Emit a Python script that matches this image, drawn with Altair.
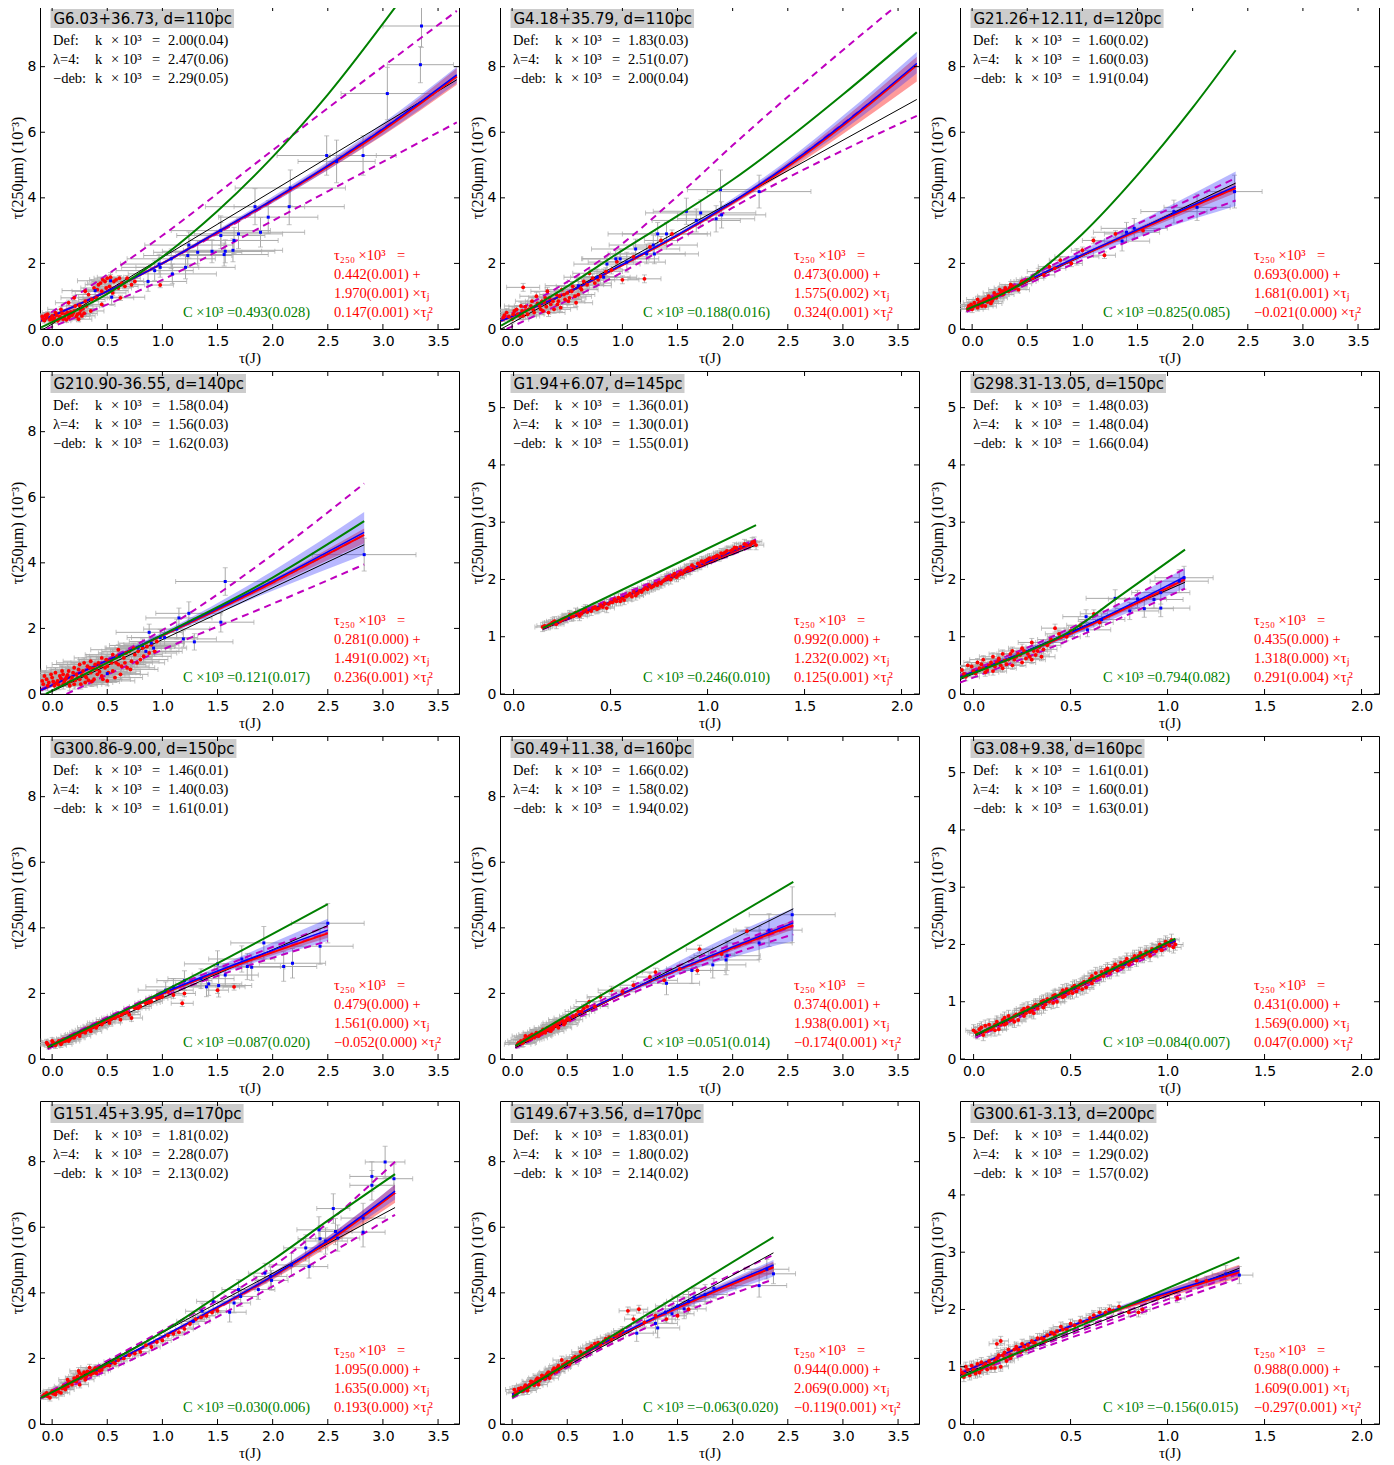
import altair as alt
import pandas as pd

W, H = 419, 323

TITLES = ["G6.03+36.73, d=110pc", "G4.18+35.79, d=110pc", "G21.26+12.11, d=120pc",
          "G210.90-36.55, d=140pc", "G1.94+6.07, d=145pc", "G298.31-13.05, d=150pc",
          "G300.86-9.00, d=150pc", "G0.49+11.38, d=160pc", "G3.08+9.38, d=160pc",
          "G151.45+3.95, d=170pc", "G149.67+3.56, d=170pc", "G300.61-3.13, d=200pc"]
K_DEF = ["2.00(0.04)", "1.83(0.03)", "1.60(0.02)", "1.58(0.04)", "1.36(0.01)", "1.48(0.03)",
         "1.46(0.01)", "1.66(0.02)", "1.61(0.01)", "1.81(0.02)", "1.83(0.01)", "1.44(0.02)"]
K_LAM = ["2.47(0.06)", "2.51(0.07)", "1.60(0.03)", "1.56(0.03)", "1.30(0.01)", "1.48(0.04)",
         "1.40(0.03)", "1.58(0.02)", "1.60(0.01)", "2.28(0.07)", "1.80(0.02)", "1.29(0.02)"]
K_DEB = ["2.29(0.05)", "2.00(0.04)", "1.91(0.04)", "1.62(0.03)", "1.55(0.01)", "1.66(0.04)",
         "1.61(0.01)", "1.94(0.02)", "1.63(0.01)", "2.13(0.02)", "2.14(0.02)", "1.57(0.02)"]
FIT_A = ["0.442(0.001)", "0.473(0.000)", "0.693(0.000)", "0.281(0.000)", "0.992(0.000)", "0.435(0.000)",
         "0.479(0.000)", "0.374(0.001)", "0.431(0.000)", "1.095(0.000)", "0.944(0.000)", "0.988(0.000)"]
FIT_B = ["1.970(0.001)", "1.575(0.002)", "1.681(0.001)", "1.491(0.002)", "1.232(0.002)", "1.318(0.000)",
         "1.561(0.000)", "1.938(0.001)", "1.569(0.000)", "1.635(0.000)", "2.069(0.000)", "1.609(0.001)"]
FIT_C = ["0.147(0.001)", "0.324(0.001)", "\u22120.021(0.000)", "0.236(0.001)", "0.125(0.001)", "0.291(0.004)",
         "\u22120.052(0.000)", "\u22120.174(0.001)", "0.047(0.000)", "0.193(0.000)", "\u22120.119(0.001)",
         "\u22120.297(0.001)"]
C_VAL = ["0.493(0.028)", "0.188(0.016)", "0.825(0.085)", "0.121(0.017)", "0.246(0.010)", "0.794(0.082)",
         "0.087(0.020)", "0.051(0.014)", "0.084(0.007)", "0.030(0.006)", "\u22120.063(0.020)",
         "\u22120.156(0.015)"]
WIDE = [True, True, True, True, False, False, True, True, False, True, True, False]

X_WIDE = (-0.11, 3.69)
Y_WIDE = (0, 9.85)
X_NARROW = (-0.07, 2.09)
Y_NARROW = (0, 5.64)
XT_WIDE = [0.0, 0.5, 1.0, 1.5, 2.0, 2.5, 3.0, 3.5]
YT_WIDE = [0, 2, 4, 6, 8]
XT_NARROW = [0.0, 0.5, 1.0, 1.5, 2.0]
YT_NARROW = [0, 1, 2, 3, 4, 5]

# red dots (x, y) per panel
RED_PTS = [
    [(-0.08, 0.30), (-0.05, 0.35), (-0.02, 0.28), (0.0, 0.40), (0.02, 0.33), (0.05, 0.25), (0.07, 0.38),
     (0.1, 0.30), (0.12, 0.45), (0.15, 0.35), (0.18, 0.42), (0.2, 0.55), (0.22, 0.38), (0.25, 0.48),
     (0.28, 0.62), (0.15, 0.80), (0.2, 0.95), (0.25, 0.72), (0.3, 0.85), (0.33, 1.05), (0.38, 1.25),
     (0.4, 0.95), (0.42, 1.35), (0.45, 1.15), (0.48, 1.45), (0.5, 1.55), (0.52, 1.30), (0.55, 1.10),
     (0.58, 1.50), (0.6, 1.25), (0.63, 1.40), (0.68, 1.55), (0.72, 1.35), (0.75, 1.45), (0.3, 1.15),
     (0.62, 0.95), (0.98, 1.34), (0.08, 0.6), (0.35, 0.55), (0.45, 0.75), (-0.06, 0.42), (0.03, 0.5),
     (0.13, 0.28), (0.17, 0.52), (0.24, 0.3), (0.27, 0.4), (0.46, 1.5), (0.53, 1.58)],
    [(-0.08, 0.35), (-0.05, 0.5), (0.0, 0.3), (0.02, 0.55), (0.05, 0.45), (0.08, 0.7), (0.1, 1.27),
     (0.1, 0.4), (0.15, 0.6), (0.18, 0.85), (0.2, 0.5), (0.22, 1.0), (0.25, 0.7), (0.28, 0.55), (0.3, 0.95),
     (0.32, 1.15), (0.35, 0.75), (0.38, 0.6), (0.4, 1.05), (0.42, 0.85), (0.45, 1.2), (0.48, 0.9), (0.5, 1.1),
     (0.55, 1.3), (0.58, 0.8), (0.6, 1.05), (0.65, 1.45), (0.7, 1.7), (0.75, 1.4), (0.8, 1.6), (0.85, 1.75),
     (0.9, 1.8), (1.0, 1.5), (1.1, 2.2), (1.2, 1.53), (1.25, 2.5), (1.35, 2.7), (1.45, 2.9), (0.95, 2.05),
     (0.12, 0.55), (0.27, 0.85), (0.33, 0.5), (0.44, 0.65), (0.52, 0.95), (0.62, 1.25)],
    [(-0.03, 0.7), (0.0, 0.6), (0.02, 0.8), (0.05, 0.65), (0.05, 0.9), (0.08, 0.75), (0.1, 0.85),
     (0.12, 0.7), (0.15, 1.0), (0.18, 0.85), (0.2, 1.1), (0.22, 0.95), (0.25, 1.2), (0.28, 1.05), (0.3, 1.25),
     (0.33, 1.15), (0.35, 1.35), (0.4, 1.3), (0.42, 1.2), (0.45, 1.45), (0.5, 1.5), (0.55, 1.55), (0.6, 1.75),
     (0.7, 1.9), (0.8, 2.1), (0.9, 2.0), (1.0, 2.4), (1.1, 2.7), (1.2, 2.25), (1.3, 2.9), (1.55, 3.0),
     (0.65, 1.65), (0.75, 1.85), (0.07, 0.82), (0.13, 0.92), (0.17, 0.78), (0.23, 1.05), (0.27, 1.15)],
    [(-0.08, 0.3), (-0.05, 0.45), (-0.03, 0.35), (0.0, 0.5), (0.02, 0.25), (0.05, 0.4), (0.07, 0.55),
     (0.1, 0.3), (0.1, 0.6), (0.12, 0.45), (0.15, 0.35), (0.15, 0.7), (0.18, 0.5), (0.2, 0.3), (0.2, 0.8),
     (0.22, 0.6), (0.25, 0.45), (0.25, 0.9), (0.28, 0.7), (0.3, 0.35), (0.3, 0.55), (0.32, 0.85), (0.35, 0.65),
     (0.35, 1.0), (0.38, 0.45), (0.4, 0.75), (0.42, 0.95), (0.45, 0.55), (0.45, 1.1), (0.48, 0.8), (0.5, 0.4),
     (0.52, 1.0), (0.55, 0.7), (0.55, 1.2), (0.6, 0.9), (0.62, 0.6), (0.65, 1.1), (0.68, 0.8), (0.7, 1.3),
     (0.72, 1.0), (0.75, 1.2), (0.8, 1.05), (0.82, 1.4), (0.88, 1.25), (0.9, 1.5), (0.95, 1.6), (0.6, 1.35),
     (0.04, 0.32), (0.08, 0.48), (0.13, 0.52), (0.17, 0.4), (0.23, 0.5), (0.27, 0.58), (0.33, 0.42),
     (0.37, 0.78), (0.43, 0.68), (0.5, 0.85), (0.58, 0.95), (0.66, 0.95), (0.78, 1.3)],
    [(0.15, 1.17), (0.18, 1.2), (0.2, 1.25), (0.22, 1.22), (0.25, 1.3), (0.27, 1.33), (0.3, 1.35),
     (0.32, 1.42), (0.35, 1.4), (0.37, 1.48), (0.4, 1.45), (0.42, 1.52), (0.45, 1.55), (0.48, 1.5), (0.5, 1.6),
     (0.52, 1.65), (0.55, 1.62), (0.58, 1.7), (0.6, 1.75), (0.63, 1.72), (0.65, 1.8), (0.68, 1.85), (0.7, 1.9),
     (0.72, 1.88), (0.75, 1.95), (0.78, 2.0), (0.8, 2.05), (0.83, 2.1), (0.85, 2.08), (0.88, 2.15), (0.9, 2.2),
     (0.93, 2.22), (0.95, 2.28), (0.98, 2.3), (1.0, 2.35), (1.03, 2.38), (1.05, 2.42), (1.08, 2.45),
     (1.1, 2.5), (1.13, 2.52), (1.15, 2.55), (1.2, 2.6), (1.23, 2.65), (1.25, 2.6), (0.24, 1.27),
     (0.34, 1.36), (0.44, 1.5), (0.54, 1.68), (0.64, 1.76), (0.74, 1.9), (0.84, 2.04)],
    [(-0.05, 0.35), (-0.03, 0.5), (0.0, 0.4), (0.02, 0.55), (0.05, 0.45), (0.05, 0.6), (0.08, 0.5),
     (0.1, 0.4), (0.1, 0.65), (0.12, 0.55), (0.15, 0.45), (0.15, 0.7), (0.18, 0.6), (0.2, 0.5), (0.2, 0.75),
     (0.22, 0.65), (0.25, 0.55), (0.25, 0.8), (0.28, 0.7), (0.3, 0.6), (0.3, 0.9), (0.33, 0.75), (0.35, 0.65),
     (0.38, 0.85), (0.4, 0.95), (0.42, 1.15), (0.45, 1.0), (0.5, 1.1), (0.55, 1.2), (0.62, 1.4), (0.65, 1.25),
     (0.07, 0.42), (0.13, 0.6), (0.17, 0.52), (0.23, 0.7), (0.27, 0.62), (0.32, 0.68)],
    [(-0.05, 0.5), (-0.03, 0.4), (0.0, 0.55), (0.02, 0.45), (0.05, 0.5), (0.08, 0.45), (0.1, 0.6),
     (0.12, 0.55), (0.15, 0.55), (0.18, 0.7), (0.2, 0.65), (0.22, 0.75), (0.25, 0.7), (0.28, 0.85), (0.3, 0.8),
     (0.33, 0.95), (0.35, 0.85), (0.38, 1.0), (0.4, 0.95), (0.42, 1.1), (0.45, 1.05), (0.5, 1.2), (0.52, 1.1),
     (0.55, 1.25), (0.6, 1.3), (0.62, 1.2), (0.65, 1.4), (0.7, 1.35), (0.72, 1.25), (0.75, 1.55), (0.8, 1.6),
     (0.85, 1.7), (0.9, 1.75), (0.95, 1.85), (1.0, 1.9), (1.05, 2.05), (1.1, 1.95), (1.18, 1.7), (1.2, 2.0),
     (1.5, 2.1), (1.65, 2.2)],
    [(0.05, 0.45), (0.08, 0.55), (0.1, 0.5), (0.12, 0.7), (0.15, 0.6), (0.18, 0.75), (0.2, 0.65),
     (0.22, 0.8), (0.25, 0.75), (0.28, 0.9), (0.3, 0.8), (0.32, 0.95), (0.35, 0.85), (0.38, 1.0), (0.4, 1.1),
     (0.42, 0.95), (0.45, 1.2), (0.48, 1.1), (0.5, 1.25), (0.55, 1.3), (0.6, 1.45), (0.65, 1.55), (0.7, 1.75),
     (0.75, 1.6), (0.8, 1.9), (0.9, 2.1), (1.0, 2.05), (1.1, 2.25), (1.25, 2.5), (1.38, 2.4), (1.52, 2.75),
     (1.68, 2.7), (1.7, 3.35), (1.9, 3.2), (2.13, 3.9), (1.3, 2.65), (0.14, 0.66), (0.24, 0.7), (0.34, 0.9)],
    [(0.0, 0.5), (0.02, 0.45), (0.04, 0.55), (0.05, 0.42), (0.07, 0.5), (0.08, 0.6), (0.1, 0.55),
     (0.12, 0.65), (0.13, 0.52), (0.15, 0.68), (0.17, 0.62), (0.18, 0.75), (0.2, 0.7), (0.22, 0.78),
     (0.23, 0.68), (0.25, 0.85), (0.27, 0.8), (0.28, 0.9), (0.3, 0.85), (0.32, 0.95), (0.33, 0.88), (0.35, 1.0),
     (0.37, 0.95), (0.38, 1.05), (0.4, 1.05), (0.42, 1.12), (0.43, 1.0), (0.45, 1.15), (0.47, 1.1),
     (0.48, 1.22), (0.5, 1.2), (0.52, 1.28), (0.53, 1.18), (0.55, 1.3), (0.57, 1.35), (0.58, 1.25), (0.6, 1.4),
     (0.62, 1.38), (0.63, 1.5), (0.65, 1.45), (0.68, 1.55), (0.7, 1.5), (0.72, 1.6), (0.75, 1.62), (0.78, 1.7),
     (0.8, 1.65), (0.82, 1.75), (0.85, 1.8), (0.88, 1.82), (0.9, 1.85), (0.93, 1.9), (0.95, 1.95),
     (0.98, 1.98), (1.0, 2.02), (1.03, 1.95)],
    [(-0.08, 0.85), (-0.05, 0.95), (-0.02, 0.8), (0.0, 1.0), (0.03, 0.9), (0.05, 1.05), (0.08, 0.95),
     (0.1, 1.15), (0.12, 1.05), (0.15, 1.25), (0.18, 1.2), (0.2, 1.4), (0.22, 1.3), (0.25, 1.55), (0.25, 1.2),
     (0.28, 1.45), (0.3, 1.35), (0.32, 1.6), (0.35, 1.5), (0.38, 1.65), (0.4, 1.55), (0.42, 1.7), (0.45, 1.65),
     (0.5, 1.8), (0.55, 1.9), (0.6, 1.95), (0.7, 2.1), (0.8, 2.2), (0.85, 2.4), (0.9, 2.35), (1.0, 2.55),
     (1.1, 2.75), (1.2, 2.9), (1.3, 3.2), (1.4, 3.3), (1.5, 3.45), (0.14, 1.35), (0.24, 1.62), (0.34, 1.72)],
    [(0.02, 1.05), (0.05, 0.98), (0.08, 1.1), (0.1, 1.02), (0.12, 1.18), (0.15, 1.12), (0.18, 1.28),
     (0.2, 1.18), (0.22, 1.36), (0.25, 1.32), (0.28, 1.46), (0.3, 1.38), (0.32, 1.55), (0.35, 1.5), (0.38, 1.7),
     (0.4, 1.6), (0.42, 1.78), (0.45, 1.72), (0.5, 1.9), (0.52, 1.82), (0.55, 2.0), (0.6, 2.05), (0.62, 2.2),
     (0.65, 2.15), (0.7, 2.32), (0.75, 2.45), (0.8, 2.42), (0.85, 2.6), (0.9, 2.58), (0.95, 2.72), (1.0, 2.85),
     (1.05, 3.45), (1.1, 3.2), (1.15, 3.5), (1.2, 3.1), (1.3, 3.3), (1.4, 3.2), (1.5, 3.3), (1.6, 3.5),
     (0.45, 1.95), (0.14, 1.02), (0.24, 1.2), (0.34, 1.4)],
    [(-0.06, 0.9), (-0.04, 1.0), (-0.02, 0.85), (0.0, 0.95), (0.02, 1.05), (0.03, 0.9), (0.05, 1.0),
     (0.07, 0.95), (0.08, 1.1), (0.1, 1.05), (0.12, 1.15), (0.14, 1.0), (0.15, 1.2), (0.17, 1.1), (0.18, 1.3),
     (0.2, 1.2), (0.22, 1.35), (0.24, 1.25), (0.25, 1.4), (0.27, 1.3), (0.3, 1.45), (0.32, 1.4), (0.35, 1.5),
     (0.37, 1.45), (0.4, 1.6), (0.42, 1.55), (0.45, 1.7), (0.48, 1.65), (0.5, 1.75), (0.55, 1.8), (0.6, 1.85),
     (0.65, 1.95), (0.7, 2.0), (0.75, 2.05), (0.8, 1.95), (0.87, 2.0), (0.95, 2.2), (1.05, 2.2), (1.15, 2.5),
     (1.3, 2.6), (0.12, 1.4), (0.14, 1.45), (-0.05, 0.82), (0.01, 0.88), (0.09, 0.98), (0.19, 1.15)],
]
# more red dots where the clouds are densest
RED_MORE = [
    [(-0.09, 0.38), (-0.07, 0.26), (-0.04, 0.45), (-0.01, 0.32), (0.01, 0.25), (0.04, 0.42), (0.06, 0.3),
     (0.09, 0.48), (0.11, 0.35), (0.14, 0.5), (0.16, 0.4), (0.19, 0.48), (0.21, 0.7), (0.23, 0.45),
     (0.26, 0.58), (0.29, 0.48), (0.31, 0.7), (0.36, 0.9), (0.41, 1.2), (0.44, 1.4), (0.49, 1.25),
     (0.56, 1.45), (0.61, 1.55), (0.66, 1.3)],
    [(-0.07, 0.42), (-0.03, 0.38), (0.01, 0.45), (0.04, 0.6), (0.07, 0.4), (0.09, 0.55), (0.12, 0.68),
     (0.14, 0.45), (0.17, 0.7), (0.19, 0.6), (0.23, 0.78), (0.26, 0.6), (0.29, 0.82), (0.31, 0.68),
     (0.34, 0.95), (0.37, 0.85), (0.41, 0.75), (0.43, 1.0), (0.47, 1.05), (0.51, 0.85), (0.54, 1.15),
     (0.57, 1.0), (0.63, 1.2), (0.68, 1.35), (0.73, 1.55), (0.78, 1.5)],
    [(-0.04, 0.62), (-0.01, 0.75), (0.01, 0.68), (0.03, 0.72), (0.06, 0.78), (0.09, 0.7), (0.11, 0.9),
     (0.14, 0.82), (0.16, 0.95), (0.19, 0.92), (0.21, 1.0), (0.24, 1.05), (0.26, 1.1), (0.29, 1.15),
     (0.31, 1.2), (0.34, 1.25), (0.37, 1.3), (0.39, 1.25), (0.44, 1.38), (0.48, 1.45)],
    [(-0.09, 0.4), (-0.07, 0.55), (-0.04, 0.25), (-0.01, 0.6), (0.01, 0.38), (0.03, 0.65), (0.06, 0.28),
     (0.09, 0.7), (0.11, 0.38), (0.14, 0.58), (0.16, 0.25), (0.19, 0.65), (0.21, 0.42), (0.24, 0.75),
     (0.26, 0.3), (0.29, 0.95), (0.31, 0.5), (0.34, 0.8), (0.36, 0.38), (0.39, 0.9), (0.41, 0.6), (0.44, 0.85),
     (0.46, 0.45), (0.49, 1.05), (0.51, 0.65), (0.54, 0.95), (0.57, 0.5), (0.59, 1.15), (0.63, 0.85),
     (0.67, 1.25), (0.71, 0.75), (0.74, 1.4), (0.77, 0.95), (0.83, 1.15), (0.86, 1.45), (0.93, 1.3)],
    [(0.16, 1.19), (0.19, 1.22), (0.21, 1.27), (0.26, 1.32), (0.29, 1.38), (0.31, 1.36), (0.33, 1.4),
     (0.36, 1.45), (0.38, 1.43), (0.41, 1.5), (0.43, 1.48), (0.46, 1.52), (0.47, 1.58), (0.49, 1.57),
     (0.51, 1.6), (0.53, 1.62), (0.56, 1.67), (0.57, 1.64), (0.59, 1.72), (0.61, 1.7), (0.62, 1.78),
     (0.66, 1.78), (0.67, 1.82), (0.69, 1.83), (0.71, 1.86), (0.73, 1.92), (0.76, 1.93), (0.77, 1.97),
     (0.79, 2.02), (0.81, 2.0), (0.82, 2.07), (0.86, 2.12), (0.87, 2.1), (0.89, 2.18), (0.91, 2.17),
     (0.92, 2.25), (0.96, 2.25), (0.97, 2.32), (0.99, 2.33), (1.01, 2.37), (1.04, 2.4), (1.06, 2.4),
     (1.07, 2.46), (1.09, 2.47), (1.12, 2.5), (1.14, 2.56), (1.17, 2.57), (1.19, 2.62), (1.22, 2.6),
     (1.24, 2.66)],
    [(-0.06, 0.42), (-0.04, 0.3), (-0.01, 0.48), (0.01, 0.36), (0.03, 0.45), (0.04, 0.52), (0.06, 0.38),
     (0.09, 0.55), (0.11, 0.48), (0.13, 0.62), (0.14, 0.5), (0.16, 0.58), (0.19, 0.7), (0.21, 0.6),
     (0.24, 0.68), (0.26, 0.75), (0.29, 0.65), (0.31, 0.75), (0.34, 0.82), (0.36, 0.78), (0.39, 0.9),
     (0.44, 1.05), (0.48, 1.0)],
    [(-0.04, 0.45), (0.01, 0.5), (0.03, 0.42), (0.06, 0.55), (0.09, 0.5), (0.11, 0.55), (0.14, 0.62),
     (0.16, 0.6), (0.19, 0.65), (0.21, 0.72), (0.24, 0.75), (0.26, 0.8), (0.29, 0.82), (0.31, 0.88),
     (0.34, 0.9), (0.36, 0.95), (0.39, 0.98), (0.41, 1.02), (0.44, 1.1), (0.47, 1.12), (0.53, 1.2),
     (0.57, 1.25), (0.63, 1.35), (0.68, 1.42), (0.78, 1.55), (0.88, 1.72), (0.98, 1.88)],
    [(0.06, 0.5), (0.09, 0.48), (0.11, 0.6), (0.13, 0.58), (0.16, 0.7), (0.17, 0.62), (0.19, 0.7),
     (0.21, 0.75), (0.23, 0.72), (0.26, 0.82), (0.27, 0.78), (0.29, 0.85), (0.31, 0.88), (0.33, 0.9),
     (0.36, 0.95), (0.37, 0.92), (0.39, 1.05), (0.41, 1.0), (0.43, 1.1), (0.46, 1.15), (0.47, 1.05),
     (0.49, 1.18), (0.52, 1.2), (0.58, 1.35), (0.63, 1.45), (0.68, 1.6)],
    [(0.01, 0.47), (0.03, 0.52), (0.06, 0.48), (0.06, 0.58), (0.09, 0.52), (0.11, 0.6), (0.11, 0.5),
     (0.14, 0.6), (0.16, 0.72), (0.16, 0.6), (0.19, 0.68), (0.21, 0.75), (0.21, 0.65), (0.24, 0.8),
     (0.26, 0.75), (0.26, 0.88), (0.29, 0.82), (0.31, 0.92), (0.31, 0.8), (0.34, 0.95), (0.36, 1.02),
     (0.36, 0.9), (0.39, 1.0), (0.41, 1.1), (0.41, 0.98), (0.44, 1.1), (0.46, 1.2), (0.46, 1.08),
     (0.49, 1.15), (0.51, 1.25), (0.51, 1.15), (0.54, 1.25), (0.56, 1.32), (0.56, 1.22), (0.59, 1.35),
     (0.61, 1.45), (0.61, 1.32), (0.64, 1.42), (0.66, 1.52), (0.67, 1.45), (0.69, 1.58), (0.71, 1.55),
     (0.73, 1.65), (0.74, 1.55), (0.76, 1.68), (0.77, 1.6), (0.79, 1.75), (0.81, 1.7), (0.83, 1.8),
     (0.84, 1.72), (0.86, 1.85), (0.87, 1.78), (0.89, 1.88), (0.91, 1.8), (0.92, 1.92), (0.94, 1.88),
     (0.96, 2.0), (0.97, 1.9), (0.99, 2.05), (1.01, 1.98), (1.02, 2.08), (1.04, 2.0)],
    [(-0.07, 0.9), (-0.04, 0.85), (-0.01, 0.95), (0.01, 0.92), (0.04, 1.0), (0.06, 0.98), (0.09, 1.08),
     (0.11, 1.1), (0.14, 1.15), (0.16, 1.28), (0.19, 1.3), (0.21, 1.35), (0.23, 1.45), (0.26, 1.4),
     (0.27, 1.5), (0.29, 1.58), (0.31, 1.45), (0.33, 1.55), (0.36, 1.62), (0.37, 1.55), (0.39, 1.7),
     (0.43, 1.62), (0.47, 1.75), (0.52, 1.78), (0.57, 1.85), (0.65, 2.0), (0.75, 2.15), (0.95, 2.5),
     (1.05, 2.7), (1.15, 2.8), (1.25, 3.05), (1.35, 3.25), (1.45, 3.4)],
    [(0.03, 0.95), (0.06, 1.08), (0.09, 1.0), (0.11, 1.12), (0.13, 1.08), (0.16, 1.2), (0.17, 1.3),
     (0.19, 1.22), (0.21, 1.3), (0.23, 1.4), (0.26, 1.38), (0.27, 1.48), (0.29, 1.42), (0.31, 1.5),
     (0.33, 1.58), (0.36, 1.55), (0.37, 1.65), (0.39, 1.62), (0.41, 1.72), (0.43, 1.68), (0.46, 1.8),
     (0.48, 1.85), (0.53, 1.9), (0.57, 2.05), (0.63, 2.12), (0.68, 2.3), (0.72, 2.38), (0.78, 2.48),
     (0.83, 2.52), (0.88, 2.65), (0.93, 2.7), (0.98, 2.78)],
    [(-0.07, 0.95), (-0.05, 0.88), (-0.03, 0.95), (-0.01, 1.02), (0.01, 0.92), (0.04, 1.08), (0.04, 0.95),
     (0.06, 1.05), (0.09, 1.05), (0.11, 1.1), (0.11, 0.98), (0.13, 1.2), (0.16, 1.15), (0.16, 1.25),
     (0.19, 1.2), (0.21, 1.3), (0.23, 1.3), (0.26, 1.35), (0.28, 1.38), (0.31, 1.42), (0.33, 1.5),
     (0.36, 1.48), (0.38, 1.55), (0.41, 1.58), (0.43, 1.62), (0.46, 1.65), (0.52, 1.72), (0.58, 1.78),
     (0.62, 1.9), (0.68, 1.95), (0.72, 1.98), (0.85, 1.95), (1.2, 2.5)],
]
# typical error of the red dots (x, y)
RED_ERR = [(0.12, 0.08), (0.15, 0.12), (0.1, 0.1), (0.25, 0.15), (0.04, 0.08), (0.07, 0.07),
           (0.1, 0.1), (0.12, 0.12), (0.04, 0.1), (0.08, 0.1), (0.08, 0.12), (0.04, 0.08)]

# blue dots (x, y, xerr, yerr)
BLUE_PTS = [
    [(3.35, 9.24, 0.35, 0.65), (3.34, 8.06, 0.3, 0.55), (3.04, 7.18, 0.42, 0.8), (2.49, 5.29, 0.45, 0.6),
     (2.58, 5.11, 0.35, 0.65), (2.82, 5.29, 0.3, 0.6), (2.16, 4.30, 0.5, 0.55), (2.15, 3.73, 0.5, 0.55),
     (1.84, 3.73, 0.45, 0.55), (1.96, 3.41, 0.45, 0.5), (1.89, 2.95, 0.4, 0.45), (1.69, 2.90, 0.4, 0.45),
     (1.53, 3.00, 0.45, 0.45), (1.53, 2.85, 0.4, 0.4), (1.65, 2.70, 0.4, 0.4), (1.24, 2.56, 0.4, 0.4),
     (1.23, 2.24, 0.4, 0.35), (1.32, 2.34, 0.4, 0.35), (1.45, 2.37, 0.45, 0.35), (1.57, 2.37, 0.45, 0.35),
     (1.56, 2.27, 0.4, 0.35), (1.64, 2.40, 0.45, 0.35), (1.21, 1.88, 0.45, 0.35), (1.09, 1.68, 0.4, 0.3),
     (1.08, 2.14, 0.4, 0.3), (0.98, 1.88, 0.35, 0.3), (0.93, 1.78, 0.35, 0.3), (0.87, 1.45, 0.35, 0.3),
     (0.97, 1.98, 0.35, 0.3), (0.54, 0.97, 0.3, 0.25), (0.53, 1.47, 0.3, 0.25), (0.39, 1.17, 0.3, 0.25)],
    [(2.24, 4.19, 0.47, 0.5), (1.89, 4.25, 0.3, 0.6), (1.90, 3.48, 0.4, 0.4), (1.85, 3.36, 0.35, 0.4),
     (1.71, 3.54, 0.5, 0.4), (1.58, 3.59, 0.3, 0.4), (1.67, 3.31, 0.4, 0.35), (1.32, 2.90, 0.45, 0.35),
     (1.40, 2.90, 0.4, 0.35), (1.28, 2.56, 0.4, 0.3), (1.29, 2.29, 0.4, 0.3), (1.22, 2.29, 0.35, 0.3),
     (1.12, 2.44, 0.4, 0.3), (1.04, 2.04, 0.35, 0.3), (0.98, 2.14, 0.35, 0.3), (0.94, 2.14, 0.3, 0.25),
     (0.86, 1.98, 0.3, 0.25), (0.83, 1.58, 0.3, 0.25), (0.77, 1.58, 0.3, 0.25), (0.60, 1.32, 0.3, 0.2)],
    [(2.38, 4.19, 0.25, 0.5), (2.04, 3.71, 0.3, 0.4), (1.83, 3.58, 0.3, 0.35), (1.40, 2.95, 0.3, 0.3),
     (1.36, 2.68, 0.25, 0.3), (1.47, 3.07, 0.3, 0.3), (0.95, 2.2, 0.2, 0.25)],
    [(2.83, 4.25, 0.47, 0.5), (1.57, 3.43, 0.45, 0.42), (1.24, 2.46, 0.3, 0.35), (1.15, 2.32, 0.3, 0.3),
     (1.13, 1.98, 0.3, 0.3), (1.53, 2.19, 0.3, 0.3), (1.29, 1.59, 0.35, 0.25), (1.19, 1.68, 0.3, 0.25),
     (0.98, 1.72, 0.3, 0.25), (1.02, 1.72, 0.3, 0.25), (0.88, 1.88, 0.3, 0.25), (0.82, 1.48, 0.3, 0.2),
     (0.78, 1.40, 0.3, 0.2), (0.85, 1.30, 0.3, 0.2), (0.90, 1.55, 0.3, 0.2), (0.92, 1.40, 0.3, 0.2),
     (0.61, 1.15, 0.3, 0.2), (0.50, 0.62, 0.3, 0.2)],
    [],
    [(1.085, 2.03, 0.15, 0.2), (1.06, 1.97, 0.15, 0.2), (0.965, 1.77, 0.15, 0.2), (0.965, 1.50, 0.15, 0.15),
     (0.93, 1.65, 0.15, 0.15), (0.845, 1.66, 0.15, 0.15), (0.805, 1.45, 0.15, 0.15), (0.88, 1.49, 0.15, 0.15),
     (0.73, 1.67, 0.15, 0.15), (0.58, 1.35, 0.12, 0.12), (0.587, 1.12, 0.12, 0.12), (0.66, 1.30, 0.12, 0.12)],
    [(2.5, 4.14, 0.33, 0.6), (2.43, 3.44, 0.3, 0.55), (2.18, 2.92, 0.3, 0.45), (2.10, 2.82, 0.3, 0.45),
     (1.92, 3.54, 0.3, 0.5), (1.81, 2.80, 0.3, 0.4), (1.77, 2.82, 0.3, 0.4), (1.72, 3.05, 0.3, 0.4),
     (1.57, 2.56, 0.3, 0.35), (1.50, 2.90, 0.3, 0.4), (1.42, 2.29, 0.3, 0.35), (1.51, 2.24, 0.3, 0.35),
     (1.40, 2.20, 0.3, 0.3), (1.20, 2.39, 0.25, 0.3), (1.03, 2.10, 0.25, 0.25), (1.10, 2.20, 0.25, 0.25),
     (1.35, 2.45, 0.3, 0.3)],
    [(2.54, 4.40, 0.39, 0.85), (2.33, 3.93, 0.3, 0.5), (2.24, 3.54, 0.3, 0.5), (1.94, 3.02, 0.3, 0.45),
     (1.95, 3.15, 0.3, 0.45), (1.82, 2.87, 0.3, 0.4), (1.63, 2.70, 0.3, 0.4), (1.40, 2.31, 0.3, 0.35)],
    [],
    [(3.02, 7.99, 0.18, 0.48), (2.90, 7.55, 0.2, 0.45), (2.90, 7.28, 0.2, 0.45), (3.10, 7.48, 0.17, 0.45),
     (2.82, 6.28, 0.2, 0.45), (2.82, 5.85, 0.2, 0.45), (2.55, 6.57, 0.15, 0.45), (2.57, 5.87, 0.15, 0.4),
     (2.59, 5.67, 0.2, 0.4), (2.48, 5.58, 0.2, 0.4), (2.42, 5.92, 0.2, 0.4), (2.43, 5.65, 0.2, 0.4),
     (2.30, 5.37, 0.2, 0.4), (2.33, 4.80, 0.17, 0.35), (2.17, 4.85, 0.2, 0.35), (1.99, 4.38, 0.15, 0.3),
     (1.93, 4.60, 0.15, 0.3), (1.87, 4.10, 0.15, 0.3), (1.98, 4.50, 0.15, 0.3), (1.69, 4.10, 0.15, 0.3),
     (1.71, 3.89, 0.15, 0.3), (1.65, 3.69, 0.15, 0.3), (1.61, 3.41, 0.15, 0.3), (1.46, 3.74, 0.15, 0.3),
     (1.36, 3.44, 0.15, 0.25), (1.28, 3.13, 0.15, 0.25)],
    [(2.37, 4.58, 0.2, 0.3), (2.24, 4.22, 0.25, 0.35), (2.31, 4.72, 0.2, 0.3), (1.83, 4.14, 0.2, 0.3),
     (1.75, 3.95, 0.2, 0.3), (1.65, 3.87, 0.2, 0.3), (1.60, 3.74, 0.2, 0.3), (1.56, 3.51, 0.2, 0.3),
     (1.50, 3.60, 0.2, 0.3), (1.45, 3.36, 0.2, 0.3), (1.39, 3.41, 0.2, 0.3), (1.30, 3.07, 0.2, 0.3),
     (1.32, 2.93, 0.2, 0.3), (1.13, 2.77, 0.15, 0.25)],
    [(1.37, 2.60, 0.07, 0.15), (1.30, 2.62, 0.07, 0.15)],
]

# model curves
GREEN = [
    [(-0.1, 0.05), (0.5, 1.07), (1.0, 2.2), (1.5, 3.6), (2.0, 5.25), (2.5, 7.15), (3.12, 9.85)],
    [(-0.1, 0.1), (0.5, 1.3), (1.0, 2.4), (1.5, 3.45), (2.0, 4.55), (2.5, 5.8), (3.0, 7.15), (3.67, 9.05)],
    [(-0.05, 0.6), (0.5, 1.5), (1.0, 2.9), (1.5, 4.7), (2.0, 6.75), (2.39, 8.5)],
    [(-0.06, 0.0), (1.0, 1.8), (2.0, 3.55), (2.83, 5.27)],
    [(0.15, 1.15), (0.75, 2.13), (1.25, 2.95)],
    [(-0.07, 0.28), (0.25, 0.7), (0.5, 1.1), (0.75, 1.7), (1.09, 2.52)],
    [(-0.04, 0.36), (1.0, 2.05), (2.5, 4.72)],
    [(0.03, 0.4), (2.55, 5.4)],
    [(0.01, 0.42), (1.04, 2.1)],
    [(-0.1, 0.8), (0.5, 1.85), (1.0, 2.8), (1.5, 3.9), (2.0, 5.0), (2.5, 6.2), (3.11, 7.62)],
    [(0.0, 0.82), (2.37, 5.7)],
    [(-0.07, 0.81), (1.37, 2.91)],
]
BLACK = [
    [(-0.1, -0.05), (3.67, 7.6)], [(-0.1, 0.0), (3.67, 7.0)], [(-0.05, 0.55), (2.39, 4.45)],
    [(-0.05, 0.0), (2.83, 4.55)], [(0.15, 1.13), (1.25, 2.6)], [(-0.07, 0.25), (1.09, 1.95)],
    [(-0.04, 0.33), (2.5, 4.07)], [(0.03, 0.35), (2.55, 4.58)], [(0.01, 0.4), (1.04, 2.05)],
    [(-0.1, 0.8), (3.11, 6.6)], [(0.0, 0.85), (2.37, 5.22)], [(-0.07, 0.85), (1.37, 2.72)],
]
# (x, y, low, high)
RED_FIT = [
    [(-0.1, 0.25, 0.22, 0.28), (0.5, 1.15, 1.12, 1.18), (1.0, 2.0, 1.97, 2.03), (1.5, 2.95, 2.9, 3.0),
     (2.0, 3.92, 3.85, 3.99), (2.5, 4.95, 4.85, 5.05), (3.0, 6.05, 5.9, 6.2), (3.67, 7.7, 7.45, 7.95)],
    [(-0.1, 0.25, 0.22, 0.28), (0.5, 1.1, 1.08, 1.12), (1.0, 1.95, 1.92, 1.98), (1.5, 2.85, 2.81, 2.89),
     (2.0, 3.85, 3.78, 3.92), (2.5, 4.95, 4.82, 5.08), (3.0, 6.2, 5.95, 6.4), (3.67, 8.05, 7.55, 8.3)],
    [(-0.05, 0.58, 0.56, 0.6), (1.0, 2.25, 2.2, 2.3), (2.39, 4.3, 4.15, 4.45)],
    [(-0.1, 0.12, 0.1, 0.14), (1.0, 1.78, 1.75, 1.81), (2.0, 3.4, 3.3, 3.5), (2.83, 4.85, 4.6, 5.05)],
    [(0.15, 1.15, 1.14, 1.16), (0.7, 1.87, 1.85, 1.89), (1.25, 2.65, 2.62, 2.69)],
    [(-0.07, 0.3, 0.28, 0.32), (0.5, 1.05, 1.02, 1.08), (1.09, 2.0, 1.95, 2.05)],
    [(-0.04, 0.38, 0.36, 0.4), (1.0, 1.98, 1.96, 2.0), (2.5, 3.83, 3.7, 3.95)],
    [(0.03, 0.4, 0.38, 0.42), (1.0, 1.99, 1.96, 2.02), (2.0, 3.38, 3.3, 3.46), (2.55, 4.08, 3.95, 4.25)],
    [(0.01, 0.42, 0.41, 0.43), (1.04, 2.06, 2.04, 2.08)],
    [(-0.1, 0.82, 0.8, 0.84), (0.5, 1.78, 1.76, 1.8), (1.0, 2.65, 2.62, 2.68), (1.5, 3.55, 3.5, 3.6),
     (2.0, 4.5, 4.4, 4.6), (2.5, 5.55, 5.4, 5.7), (3.11, 7.05, 6.75, 7.3)],
    [(0.0, 0.9, 0.88, 0.92), (1.0, 2.75, 2.72, 2.78), (2.37, 4.78, 4.6, 4.95)],
    [(-0.07, 0.88, 0.86, 0.9), (0.5, 1.7, 1.68, 1.72), (1.37, 2.65, 2.55, 2.78)],
]
BLUE_FIT = [
    [(-0.1, 0.25, 0.2, 0.3), (0.5, 1.15, 1.11, 1.19), (1.0, 2.0, 1.96, 2.05), (1.5, 2.96, 2.9, 3.03),
     (2.0, 3.94, 3.84, 4.04), (2.5, 4.98, 4.85, 5.1), (3.0, 6.1, 5.92, 6.28), (3.67, 7.75, 7.5, 8.0)],
    [(-0.1, 0.25, 0.2, 0.3), (0.5, 1.1, 1.07, 1.14), (1.0, 1.97, 1.93, 2.02), (1.5, 2.87, 2.82, 2.93),
     (2.0, 3.88, 3.8, 3.98), (2.5, 5.0, 4.88, 5.15), (3.0, 6.25, 6.05, 6.5), (3.67, 8.1, 7.8, 8.45)],
    [(-0.05, 0.58, 0.5, 0.66), (1.0, 2.27, 2.15, 2.4), (2.39, 4.35, 3.75, 4.8)],
    [(-0.1, 0.12, 0.05, 0.2), (1.0, 1.8, 1.74, 1.88), (2.0, 3.45, 3.15, 3.75), (2.83, 4.93, 4.25, 5.55)],
    [(0.15, 1.15, 1.13, 1.17), (0.7, 1.88, 1.85, 1.91), (1.25, 2.67, 2.6, 2.72)],
    [(-0.07, 0.3, 0.26, 0.34), (0.5, 1.07, 1.0, 1.13), (1.09, 2.05, 1.85, 2.2)],
    [(-0.04, 0.38, 0.34, 0.42), (1.0, 2.0, 1.95, 2.06), (2.5, 3.93, 3.6, 4.28)],
    [(0.03, 0.4, 0.36, 0.44), (1.0, 2.0, 1.94, 2.08), (2.0, 3.42, 3.1, 3.8), (2.55, 4.15, 3.6, 4.6)],
    [(0.01, 0.42, 0.4, 0.44), (1.04, 2.07, 2.03, 2.1)],
    [(-0.1, 0.82, 0.8, 0.84), (0.5, 1.79, 1.76, 1.82), (1.0, 2.66, 2.62, 2.7), (1.5, 3.57, 3.52, 3.62),
     (2.0, 4.52, 4.42, 4.62), (2.5, 5.6, 5.47, 5.72), (3.11, 7.1, 6.85, 7.3)],
    [(0.0, 0.9, 0.86, 0.94), (1.0, 2.77, 2.72, 2.82), (2.37, 4.85, 4.5, 5.0)],
    [(-0.07, 0.88, 0.85, 0.91), (0.5, 1.71, 1.68, 1.74), (1.37, 2.68, 2.58, 2.76)],
]
DASH_UP = [
    [(-0.1, 0.3), (1.0, 2.85), (2.0, 5.45), (3.67, 9.7)],
    [(-0.1, 0.3), (1.0, 2.6), (1.5, 4.05), (2.0, 5.6), (3.5, 9.9)],
    [(-0.05, 0.62), (1.0, 2.4), (2.39, 4.6)],
    [(-0.1, 0.15), (1.0, 1.95), (2.0, 4.25), (2.83, 6.42)],
    [(0.15, 1.17), (1.25, 2.7)],
    [(-0.07, 0.33), (0.5, 1.15), (1.09, 2.19)],
    [(-0.04, 0.4), (1.0, 2.05), (2.5, 4.05)],
    [(0.03, 0.38), (1.0, 2.1), (2.0, 3.5), (2.55, 4.2)],
    [(0.01, 0.43), (1.04, 2.08)],
    [(-0.1, 0.85), (1.0, 2.85), (2.0, 4.8), (3.11, 8.0)],
    [(0.0, 0.85), (1.0, 2.85), (2.37, 5.16)],
    [(-0.07, 0.9), (1.37, 2.7)],
]
DASH_MID = [
    [(-0.1, 0.25), (1.0, 2.0), (2.0, 3.9), (3.67, 7.7)],
    [(-0.1, 0.25), (1.0, 1.95), (2.0, 3.85), (3.67, 8.05)],
    [(-0.05, 0.57), (1.0, 2.25), (2.39, 4.3)],
    [(-0.1, 0.12), (1.0, 1.78), (2.0, 3.4), (2.83, 4.85)],
    [(0.15, 1.15), (1.25, 2.65)],
    [(-0.07, 0.3), (0.5, 1.06), (1.09, 2.02)],
    [(-0.04, 0.37), (1.0, 1.98), (2.5, 3.85)],
    [(0.03, 0.36), (1.0, 1.98), (2.0, 3.36), (2.55, 4.05)],
    [(0.01, 0.41), (1.04, 2.05)],
    [(-0.1, 0.8), (1.0, 2.62), (2.0, 4.5), (3.11, 7.05)],
    [(0.0, 0.82), (1.0, 2.72), (2.37, 4.8)],
    [(-0.07, 0.86), (1.37, 2.63)],
]
DASH_LO = [
    [(-0.05, 0.0), (1.0, 1.5), (2.0, 3.3), (3.67, 6.3)],
    [(-0.05, 0.0), (1.0, 1.73), (1.5, 2.7), (2.0, 3.7), (3.67, 6.5)],
    [(-0.05, 0.52), (1.0, 2.1), (2.39, 3.92)],
    [(0.13, 0.0), (1.0, 1.35), (2.0, 2.75), (2.83, 3.95)],
    [(0.15, 1.13), (1.25, 2.6)],
    [(-0.07, 0.2), (0.5, 0.95), (1.09, 1.84)],
    [(-0.04, 0.3), (1.0, 1.9), (2.5, 3.6)],
    [(0.03, 0.33), (1.0, 1.88), (2.0, 3.2), (2.55, 3.8)],
    [(0.01, 0.37), (1.04, 2.0)],
    [(-0.1, 0.78), (1.0, 2.4), (2.0, 4.2), (3.11, 6.38)],
    [(0.0, 0.78), (1.0, 2.6), (2.37, 4.41)],
    [(-0.07, 0.82), (1.37, 2.55)],
]

SERIF = "Liberation Serif"
SANS = "DejaVu Sans"
GRAY = "#a9a9a9"
CHAR_EM = {".": 0.318, ",": 0.318, " ": 0.318, "+": 0.838, "-": 0.361, "=": 0.838,
           "G": 0.775, "d": 0.635, "p": 0.635, "c": 0.55}


def title_width(s, size=15):
    return sum(CHAR_EM.get(ch, 0.636) for ch in s) * size


def panel(i):
    xd = X_WIDE if WIDE[i] else X_NARROW
    yd = Y_WIDE if WIDE[i] else Y_NARROW
    xt = XT_WIDE if WIDE[i] else XT_NARROW
    yt = YT_WIDE if WIDE[i] else YT_NARROW

    xaxis = alt.Axis(values=xt, format=".1f", title="\u03c4(J)", grid=False, ticks=False, tickSize=0,
                     domain=False, labelFont=SANS, labelFontSize=14, labelColor="black", labelPadding=5,
                     titleFont=SERIF, titleFontSize=15, titleFontWeight="normal", titleColor="black",
                     titlePadding=2)
    yaxis = alt.Axis(values=yt, format="d", title="\u03c4(250\u03bcm) (10\u207b\u00b3)", grid=False,
                     ticks=False, tickSize=0, domain=False, labelFont=SANS, labelFontSize=14,
                     labelColor="black", labelPadding=4, titleFont=SERIF, titleFontSize=16,
                     titleFontWeight="normal", titleColor="black", titlePadding=2)

    def X(f):
        return alt.X(f, type="quantitative", scale=alt.Scale(domain=list(xd), nice=False, zero=False),
                     axis=xaxis)

    def Y(f):
        return alt.Y(f, type="quantitative", scale=alt.Scale(domain=list(yd), nice=False, zero=False),
                     axis=yaxis)

    def px(v):
        return xd[0] + v / W * (xd[1] - xd[0])

    def py(v):
        return yd[1] - v / H * (yd[1] - yd[0])

    rex, rey = RED_ERR[i]
    red = pd.DataFrame(RED_PTS[i] + RED_MORE[i], columns=["x", "y"])
    red["ex"], red["ey"] = rex, rey
    blue = pd.DataFrame(BLUE_PTS[i], columns=["x", "y", "ex", "ey"])
    pts = pd.concat([red, blue], ignore_index=True)
    pts["xlo"], pts["xhi"] = pts.x - pts.ex, pts.x + pts.ex
    pts["ylo"], pts["yhi"] = pts.y - pts.ey, pts.y + pts.ey
    xcaps = pd.DataFrame({"cx": list(pts.xlo) + list(pts.xhi), "cy": list(pts.y) * 2})
    ycaps = pd.DataFrame({"cx": list(pts.x) * 2, "cy": list(pts.ylo) + list(pts.yhi)})

    err_h = alt.Chart(pts).mark_rule(color=GRAY, strokeWidth=1, clip=True).encode(
        x=X("xlo"), x2="xhi", y=Y("y"))
    err_v = alt.Chart(pts).mark_rule(color=GRAY, strokeWidth=1, clip=True).encode(
        x=X("x"), y=Y("ylo"), y2="yhi")
    cap_h = alt.Chart(xcaps).mark_tick(color=GRAY, orient="vertical", size=5, thickness=1, clip=True).encode(
        x=X("cx"), y=Y("cy"))
    cap_v = alt.Chart(ycaps).mark_tick(color=GRAY, orient="horizontal", size=5, thickness=1, clip=True).encode(
        x=X("cx"), y=Y("cy"))
    red_dots = alt.Chart(red).mark_circle(color="#ff0000", size=15, opacity=1, clip=True).encode(
        x=X("x"), y=Y("y"))
    blue_dots = alt.Chart(blue).mark_square(color="#0000ff", size=9, opacity=1, clip=True).encode(
        x=X("x"), y=Y("y"))

    rfit = pd.DataFrame(RED_FIT[i], columns=["x", "y", "lo", "hi"])
    bfit = pd.DataFrame(BLUE_FIT[i], columns=["x", "y", "lo", "hi"])
    band_b = alt.Chart(bfit).mark_area(color="#3333ff", opacity=0.35, interpolate="monotone", clip=True).encode(
        x=X("x"), y=Y("lo"), y2="hi")
    band_r = alt.Chart(rfit).mark_area(color="#ff2020", opacity=0.45, interpolate="monotone", clip=True).encode(
        x=X("x"), y=Y("lo"), y2="hi")

    dash = pd.concat([pd.DataFrame(DASH_UP[i], columns=["x", "y"]).assign(k="up"),
                      pd.DataFrame(DASH_MID[i], columns=["x", "y"]).assign(k="mid"),
                      pd.DataFrame(DASH_LO[i], columns=["x", "y"]).assign(k="lo")], ignore_index=True)
    dashed = alt.Chart(dash).mark_line(color="#bf00bf", strokeWidth=2, strokeDash=[7, 5],
                                       interpolate="monotone", clip=True).encode(
        x=X("x"), y=Y("y"), detail="k:N")
    black = alt.Chart(pd.DataFrame(BLACK[i], columns=["x", "y"])).mark_line(
        color="black", strokeWidth=1, clip=True).encode(x=X("x"), y=Y("y"))
    red_line = alt.Chart(rfit).mark_line(color="#ff0000", strokeWidth=2, interpolate="monotone",
                                         clip=True).encode(x=X("x"), y=Y("y"))
    blue_line = alt.Chart(bfit).mark_line(color="#0000ff", strokeWidth=1.5, interpolate="monotone",
                                          clip=True).encode(x=X("x"), y=Y("y"))
    green = alt.Chart(pd.DataFrame(GREEN[i], columns=["x", "y"])).mark_line(
        color="#008000", strokeWidth=2, interpolate="monotone", clip=True).encode(x=X("x"), y=Y("y"))

    # title box
    tw = title_width(TITLES[i])
    box = pd.DataFrame({"x": [px(10.5)], "x2": [px(13.5 + tw + 2)], "y": [py(3)], "y2": [py(22)]})
    title_box = alt.Chart(box).mark_rect(color="#cccccc").encode(x=X("x"), x2="x2", y=Y("y"), y2="y2")
    title_txt = alt.Chart(pd.DataFrame({"tx": [px(13.5)], "ty": [py(13)], "t": [TITLES[i]]})).mark_text(
        font=SANS, fontSize=15, align="left", baseline="middle", color="black").encode(
        x=X("tx"), y=Y("ty"), text="t:N")

    rows = []
    for lab, val, yy in (("Def:", K_DEF[i], 35), ("\u03bb=4:", K_LAM[i], 54), ("\u2212deb:", K_DEB[i], 73)):
        rows += [(13, yy, lab, "black"), (55, yy, "k", "black"), (71, yy, "\u00d7 10\u00b3", "black"),
                 (112, yy, "=", "black"), (128, yy, val, "black")]
    rows += [(294, 250, "\u03c4\u2082\u2085\u2080 \u00d710\u00b3", "#ff0000"), (357, 250, "=", "#ff0000"),
             (294, 269, FIT_A[i] + " +", "#ff0000"),
             (294, 288, FIT_B[i] + " \u00d7\u03c4\u2c7c", "#ff0000"),
             (294, 307, FIT_C[i] + " \u00d7\u03c4\u2c7c\u00b2", "#ff0000"),
             (143, 307, "C \u00d710\u00b3 =" + C_VAL[i], "#008000")]
    tdf = pd.DataFrame(rows, columns=["px", "py", "t", "c"])
    tdf["tx"] = tdf.px.map(px)
    tdf["ty"] = tdf.py.map(py)
    texts = alt.Chart(tdf).mark_text(font=SERIF, fontSize=14.5, align="left", baseline="middle").encode(
        x=X("tx"), y=Y("ty"), text="t:N", color=alt.Color("c:N", scale=None))

    # inward ticks on all four sides
    xtd = pd.DataFrame({"v": xt})
    ytd = pd.DataFrame({"v": yt})
    t_top = alt.Chart(xtd).mark_rule(color="black").encode(x=X("v"), y=alt.value(0), y2=alt.value(5))
    t_bot = alt.Chart(xtd).mark_rule(color="black").encode(x=X("v"), y=alt.value(H - 5), y2=alt.value(H))
    t_lft = alt.Chart(ytd).mark_rule(color="black").encode(y=Y("v"), x=alt.value(0), x2=alt.value(5))
    t_rgt = alt.Chart(ytd).mark_rule(color="black").encode(y=Y("v"), x=alt.value(W - 5), x2=alt.value(W))

    return alt.layer(err_h, err_v, cap_h, cap_v, band_r, band_b, dashed, black, red_line, blue_line,
                     red_dots, blue_dots, green, title_box, title_txt, texts,
                     t_top, t_bot, t_lft, t_rgt).properties(width=W, height=H)


rows = [alt.hconcat(*[panel(r * 3 + c) for c in range(3)], spacing=8) for r in range(4)]
chart = alt.vconcat(*rows, spacing=4).properties(
    padding={"left": 0, "top": -3, "right": 0, "bottom": 0}, background="white"
).configure_view(stroke="black", strokeWidth=1)

chart.save("out.html", embed_options={"renderer": "svg", "actions": False})
